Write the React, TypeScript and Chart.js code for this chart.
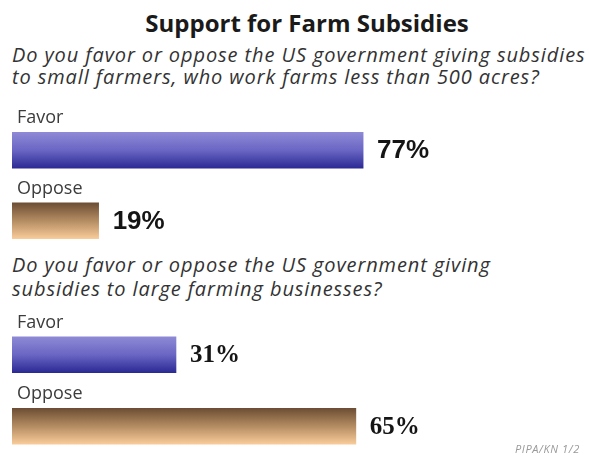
import React, { useEffect, useRef } from "react";
import { Chart, registerables } from "chart.js";

Chart.register(...registerables);

// ---- data ----
const titleText = "Support for Farm Subsidies";
const q1Lines = [
  "Do you favor or oppose the US government giving subsidies",
  "to small farmers, who work farms less than 500 acres?",
];
const q2Lines = [
  "Do you favor or oppose the US government giving",
  "subsidies to large farming businesses?",
];
const categories = ["Favor", "Oppose"];
const q1Values = [77, 19];
const q2Values = [31, 65];
const sourceNote = "PIPA/KN 1/2";

// ---- styles ----
const barGradients = [
  ["#8e8ad6", "#6a66c4", "#2b2994"],
  ["#6c4e34", "#b48c62", "#f9cc9a"],
];
const SANS = '"Open Sans", "Noto Sans", sans-serif';

type PanelProps = {
  values: number[];
  top: number;
  height: number;
  padTop: number;
  padRight: number;
  valueFont: string;
};

function BarPanel({ values, top, height, padTop, padRight, valueFont }: PanelProps) {
  const ref = useRef<HTMLCanvasElement>(null);
  useEffect(() => {
    const canvas = ref.current!;
    const labelPlugin = {
      id: "barLabels",
      afterDatasetsDraw(chart: any) {
        const ctx = chart.ctx;
        const meta = chart.getDatasetMeta(0);
        meta.data.forEach((el: any, i: number) => {
          const { x, y, height: h } = el.getProps(["x", "y", "height"], true);
          ctx.save();
          ctx.fillStyle = "#3c3c3c";
          ctx.font = "18px " + SANS;
          ctx.textAlign = "left";
          ctx.textBaseline = "alphabetic";
          ctx.fillText(categories[i], chart.chartArea.left + 5, y - h / 2 - 9);
          ctx.fillStyle = "#151515";
          ctx.font = valueFont;
          ctx.textBaseline = "middle";
          ctx.fillText(values[i] + "%", x + 14, y + 1);
          ctx.restore();
        });
      },
    };
    const chart = new Chart(canvas, {
      type: "bar",
      data: {
        labels: categories,
        datasets: [
          {
            data: values,
            barThickness: 36,
            borderWidth: 0,
            backgroundColor: (c: any) => {
              const chart = c.chart;
              const stops = barGradients[c.dataIndex % barGradients.length];
              if (!chart.chartArea || c.dataIndex === undefined) return stops[1];
              const cy = chart.scales.y.getPixelForValue(c.dataIndex);
              const g = chart.ctx.createLinearGradient(0, cy - 18, 0, cy + 18);
              g.addColorStop(0, stops[0]);
              g.addColorStop(0.5, stops[1]);
              g.addColorStop(1, stops[2]);
              return g;
            },
          },
        ],
      },
      options: {
        indexAxis: "y",
        responsive: false,
        animation: false,
        events: [],
        layout: { padding: { left: 12, right: padRight, top: padTop, bottom: 0 } },
        scales: {
          x: { display: false, min: 0, max: 100 },
          y: { display: false },
        },
        plugins: { legend: { display: false }, tooltip: { enabled: false } },
      },
      plugins: [labelPlugin],
    } as any);
    return () => chart.destroy();
  }, []);
  return (
    <canvas
      ref={ref}
      width={589}
      height={height}
      style={{ position: "absolute", left: 0, top, display: "block" }}
    />
  );
}

function TextLine({ text, baseline, left, size, style }: any) {
  return (
    <div
      style={{
        position: "absolute",
        left,
        top: baseline - 0.888 * size,
        fontSize: size,
        lineHeight: size + "px",
        whiteSpace: "nowrap",
        fontFamily: SANS,
        ...style,
      }}
    >
      {text}
    </div>
  );
}

const questionStyle = { fontStyle: "italic", color: "#333", letterSpacing: "0.9px" };

export default function App() {
  return (
    <div
      style={{
        position: "fixed",
        left: 0,
        top: 0,
        width: 589,
        height: 458,
        overflow: "hidden",
        background: "#fff",
      }}
    >
      <TextLine
        text={titleText}
        baseline={32}
        left={307}
        size={24}
        style={{ fontWeight: 700, color: "#1a1a1a", transform: "translateX(-50%)" }}
      />
      {q1Lines.map((t, i) => (
        <TextLine
          key={"a" + i}
          text={t}
          baseline={63 + i * 21.5}
          left={12}
          size={20}
          style={questionStyle}
        />
      ))}
      {q2Lines.map((t, i) => (
        <TextLine
          key={"b" + i}
          text={t}
          baseline={273 + i * 24}
          left={12}
          size={20}
          style={questionStyle}
        />
      ))}
      <BarPanel
        values={q1Values}
        top={100}
        height={156}
        padTop={15}
        padRight={121}
        valueFont={'bold 26px "Liberation Sans", Arial, sans-serif'}
      />
      <BarPanel
        values={q2Values}
        top={300}
        height={162}
        padTop={19}
        padRight={48}
        valueFont={'bold 25px "Liberation Serif", "Times New Roman", serif'}
      />
      <TextLine
        text={sourceNote}
        baseline={453}
        left={515}
        size={11}
        style={{ fontStyle: "italic", color: "#999", letterSpacing: "0.6px" }}
      />
    </div>
  );
}
